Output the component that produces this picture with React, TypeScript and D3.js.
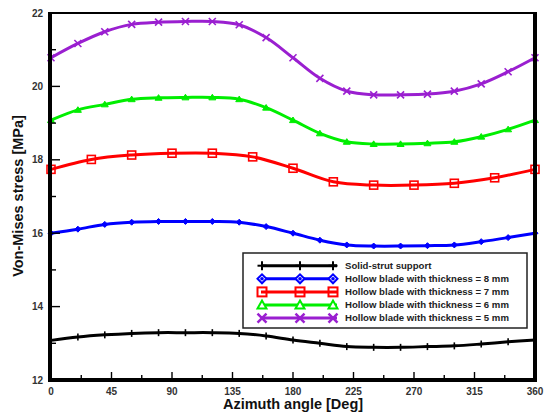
import React from "react";
import * as d3 from "d3";

// Azimuth positions sampled by each configuration
const angles20 = [0, 20, 40, 60, 80, 100, 120, 140, 160, 180, 200, 220, 240, 260, 280, 300, 320, 340, 360];
const angles30 = [0, 30, 60, 90, 120, 150, 180, 210, 240, 270, 300, 330, 360];

// Von-Mises stress [MPa]
const solidStrut = [13.08, 13.17, 13.23, 13.27, 13.29, 13.29, 13.29, 13.27, 13.2, 13.09, 13.0, 12.91, 12.89, 12.89, 12.91, 12.93, 12.98, 13.04, 13.09];
const hollow8 = [16.0, 16.11, 16.24, 16.3, 16.32, 16.32, 16.32, 16.3, 16.18, 16.0, 15.81, 15.68, 15.65, 15.65, 15.66, 15.68, 15.77, 15.88, 16.0];
const hollow7 = [17.74, 18.01, 18.13, 18.18, 18.18, 18.08, 17.77, 17.4, 17.31, 17.31, 17.36, 17.51, 17.74];
const hollow6 = [19.08, 19.36, 19.51, 19.65, 19.69, 19.7, 19.7, 19.65, 19.42, 19.08, 18.72, 18.49, 18.43, 18.43, 18.45, 18.49, 18.63, 18.83, 19.08];
const hollow5 = [20.78, 21.17, 21.49, 21.69, 21.75, 21.77, 21.77, 21.68, 21.33, 20.78, 20.22, 19.87, 19.77, 19.77, 19.79, 19.87, 20.07, 20.4, 20.78];

const xTickLabels = [0, 45, 90, 135, 180, 225, 270, 315, 360];
const yTickLabels = [12, 14, 16, 18, 20, 22];

type Marker = "plus" | "diamond" | "square" | "triangle" | "cross";

interface Series {
  name: string;
  angles: number[];
  values: number[];
  color: string;
  marker: Marker;
}

const series: Series[] = [
  { name: "Solid-strut support", angles: angles20, values: solidStrut, color: "#000000", marker: "plus" },
  { name: "Hollow blade with thickness = 8 mm", angles: angles20, values: hollow8, color: "#0000ff", marker: "diamond" },
  { name: "Hollow blade with thickness = 7 mm", angles: angles30, values: hollow7, color: "#ff0000", marker: "square" },
  { name: "Hollow blade with thickness = 6 mm", angles: angles20, values: hollow6, color: "#00ee00", marker: "triangle" },
  { name: "Hollow blade with thickness = 5 mm", angles: angles20, values: hollow5, color: "#9a1fd0", marker: "cross" },
];

const W = 544;
const H = 412;
const x = d3.scaleLinear().domain([0, 360]).range([51, 535]);
const y = d3.scaleLinear().domain([12, 22]).range([380, 13]);

function MarkerShape({ kind, cx, cy, color, s, legend }: { kind: Marker; cx: number; cy: number; color: string; s: number; legend?: boolean }) {
  switch (kind) {
    case "plus":
      return (
        <g stroke={color} strokeWidth={legend ? 2 : 1.6}>
          <line x1={cx} x2={cx} y1={cy - s} y2={cy + s} />
          {legend && <line x1={cx - s} x2={cx + s} y1={cy} y2={cy} />}
        </g>
      );
    case "diamond":
      return legend ? (
        <g>
          <path d={`M${cx - s},${cy}L${cx},${cy - s}L${cx + s},${cy}L${cx},${cy + s}Z`} fill="white" stroke={color} strokeWidth={2} />
          <circle cx={cx} cy={cy} r={1.8} fill={color} />
        </g>
      ) : (
        <path d={`M${cx - s},${cy}L${cx},${cy - s}L${cx + s},${cy}L${cx},${cy + s}Z`} fill={color} stroke={color} strokeWidth={1} />
      );
    case "square":
      return (
        <rect x={cx - s} y={cy - s} width={2 * s} height={2 * s} fill="none" stroke={color} strokeWidth={legend ? 2 : 1.6} />
      );
    case "triangle":
      return legend ? (
        <path d={`M${cx - s},${cy + s * 0.8}L${cx},${cy - s}L${cx + s},${cy + s * 0.8}Z`} fill="white" stroke={color} strokeWidth={2} />
      ) : (
        <path d={`M${cx - s},${cy + s * 0.7}L${cx},${cy - s * 0.9}L${cx + s},${cy + s * 0.7}Z`} fill={color} stroke={color} strokeWidth={1} />
      );
    case "cross":
      return (
        <g stroke={color} strokeWidth={legend ? 2.4 : 1.6}>
          <line x1={cx - s} x2={cx + s} y1={cy - s} y2={cy + s} />
          <line x1={cx - s} x2={cx + s} y1={cy + s} y2={cy - s} />
        </g>
      );
  }
}

const markerSize: Record<Marker, number> = { plus: 3.5, diamond: 3, square: 4, triangle: 3.5, cross: 3.5 };

export default function App() {
  const line = d3
    .line<[number, number]>()
    .x((d) => x(d[0]))
    .y((d) => y(d[1]))
    .curve(d3.curveCatmullRom.alpha(0.5));

  const xMinor = d3.range(0, 360.01, 22.5);
  const yMinor = d3.range(12, 22.01, 1);
  const font = "'Liberation Sans', Arial, sans-serif";

  const legendX = 243;
  const legendY = 253;
  const rowGap = 13.1;

  return (
    <svg width={W} height={H} style={{ position: "absolute", left: 0, top: 0, background: "white" }} fontFamily={font}>
      <rect width={W} height={H} fill="white" />

      {/* data lines */}
      {series.map((s) => (
        <g key={s.name}>
          <path
            d={line(s.angles.map((a, i) => [a, s.values[i]]) as [number, number][]) || ""}
            fill="none"
            stroke={s.color}
            strokeWidth={3}
          />
          {s.angles.map((a, i) => (
            <MarkerShape key={i} kind={s.marker} cx={x(a)} cy={y(s.values[i])} color={s.color} s={markerSize[s.marker]} />
          ))}
        </g>
      ))}

      {/* ticks */}
      <g stroke="#000" strokeWidth={1.4}>
        {xMinor.map((t) => {
          const major = t % 45 === 0;
          return <line key={"x" + t} x1={x(t)} x2={x(t)} y1={380} y2={380 - (major ? 8 : 5)} />;
        })}
        {yMinor.map((t) => {
          const major = t % 2 === 0;
          return <line key={"y" + t} x1={50} x2={50 + (major ? 10 : 6)} y1={y(t)} y2={y(t)} />;
        })}
      </g>

      {/* frame */}
      <line x1={50} x2={536} y1={13} y2={13} stroke="#000" strokeWidth={2.2} />
      <line x1={50} x2={50} y1={12} y2={382} stroke="#000" strokeWidth={4} />
      <line x1={48} x2={537} y1={380} y2={380} stroke="#000" strokeWidth={4} />
      <line x1={535} x2={535} y1={12} y2={382} stroke="#000" strokeWidth={4} />

      {/* tick labels */}
      <g fontSize={10} fontWeight="bold" fill="#333">
        {xTickLabels.map((t) => (
          <text key={"xl" + t} x={x(t)} y={395} textAnchor="middle">
            {t}
          </text>
        ))}
        {yTickLabels.map((t) => (
          <text key={"yl" + t} x={43} y={y(t) + 3.5} textAnchor="end">
            {t}
          </text>
        ))}
      </g>

      {/* axis titles */}
      <text x={293} y={409} textAnchor="middle" fontSize={14.5} fontWeight="bold" fill="#111">
        Azimuth angle [Deg]
      </text>
      <text
        transform={`translate(23,196) rotate(-90)`}
        textAnchor="middle"
        fontSize={14.5}
        fontWeight="bold"
        fill="#111"
      >
        Von-Mises stress [MPa]
      </text>

      {/* legend */}
      <rect x={legendX} y={legendY} width={284} height={75} fill="white" stroke="#222" strokeWidth={1.5} />
      {series.map((s, i) => {
        const cy = legendY + 12.7 + i * rowGap;
        return (
          <g key={"lg" + i}>
            <line x1={261} x2={337} y1={cy} y2={cy} stroke={s.color} strokeWidth={3} />
            {[262, 300, 333].map((mx) => (
              <MarkerShape key={mx} kind={s.marker} cx={mx} cy={cy} color={s.color} s={4.5} legend />
            ))}
            <text x={345} y={cy + 3.3} fontSize={9.6} fontWeight="bold" fill="#222">
              {s.name}
            </text>
          </g>
        );
      })}
    </svg>
  );
}
